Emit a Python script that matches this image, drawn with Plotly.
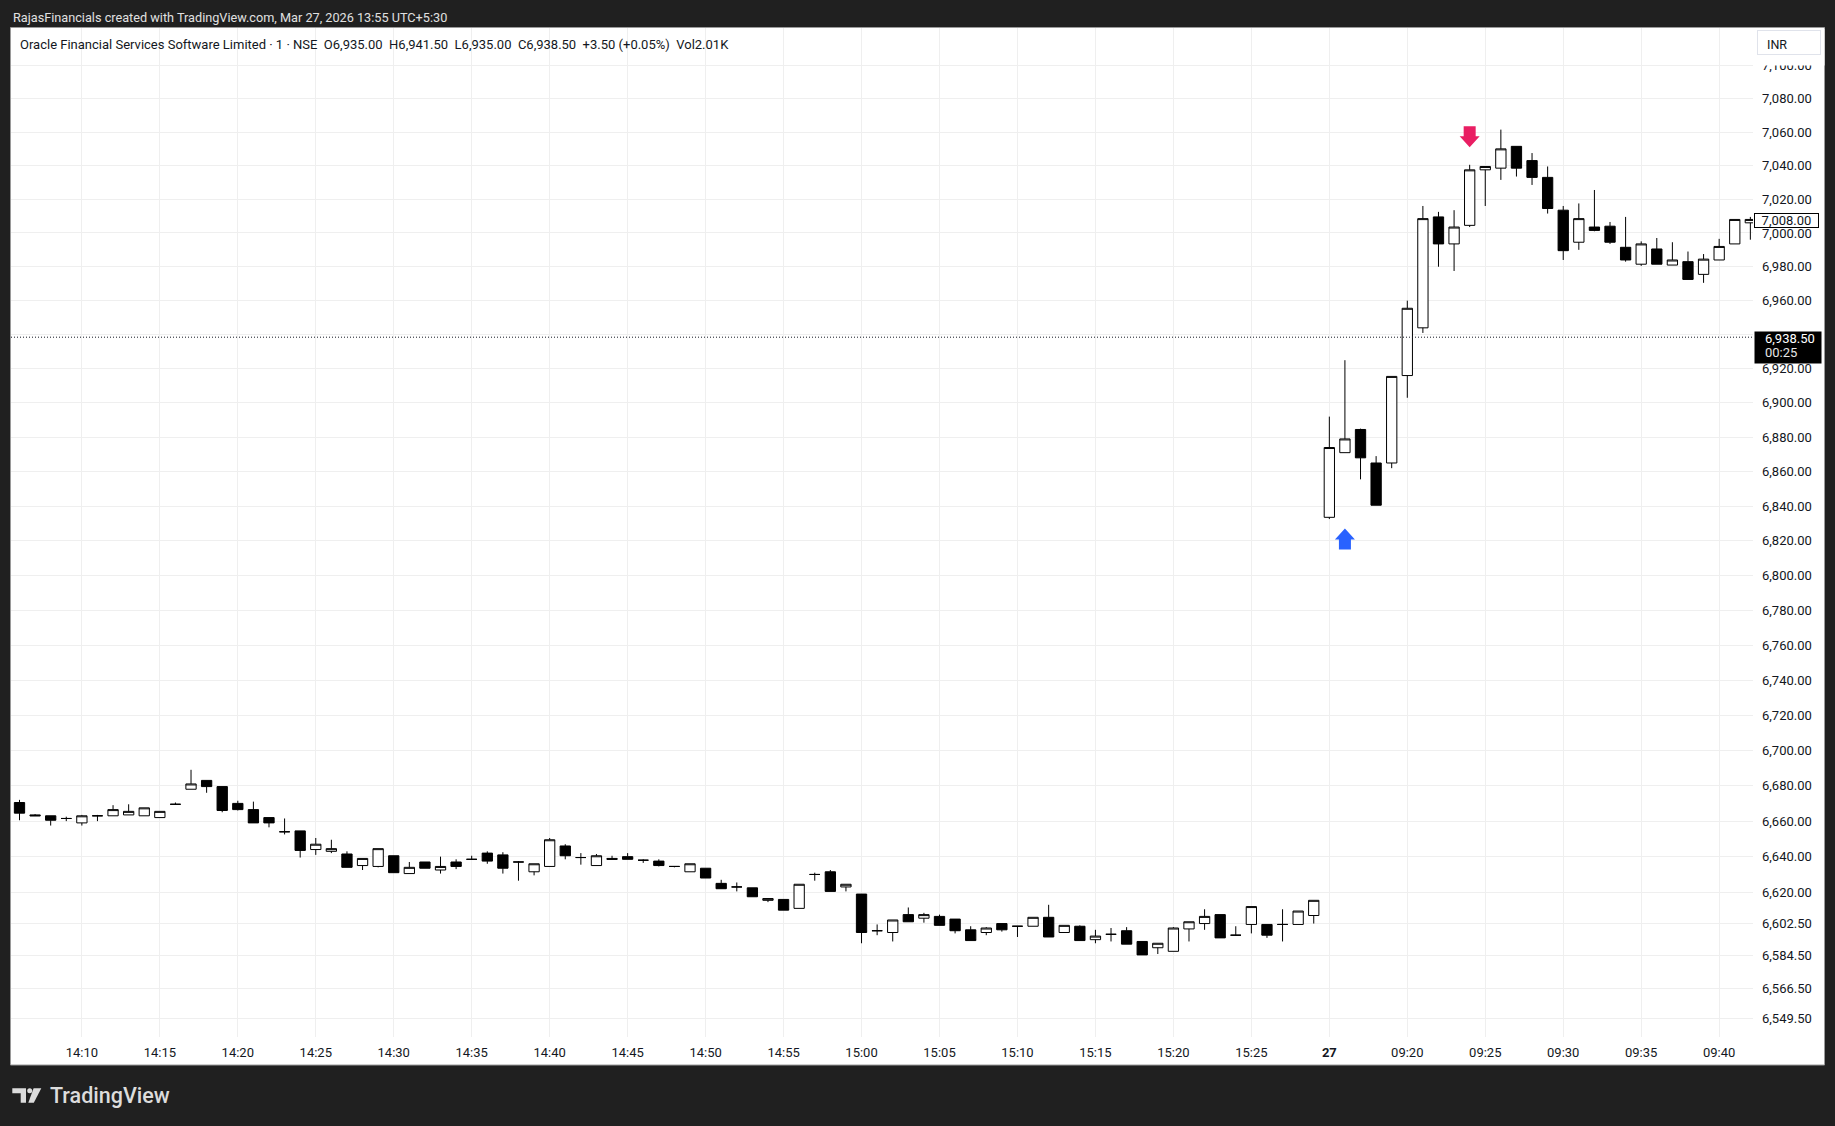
import numpy as np
import plotly.graph_objects as go

# ---------------- data ----------------
times = [
    "14:06", "14:07", "14:08", "14:09", "14:10", "14:11", "14:12", "14:13", "14:14", "14:15",
    "14:16", "14:17", "14:18", "14:19", "14:20", "14:21", "14:22", "14:23", "14:24", "14:25",
    "14:26", "14:27", "14:28", "14:29", "14:30", "14:31", "14:32", "14:33", "14:34", "14:35",
    "14:36", "14:37", "14:38", "14:39", "14:40", "14:41", "14:42", "14:43", "14:44", "14:45",
    "14:46", "14:47", "14:48", "14:49", "14:50", "14:51", "14:52", "14:53", "14:54", "14:55",
    "14:56", "14:57", "14:58", "14:59", "15:00", "15:01", "15:02", "15:03", "15:04", "15:05",
    "15:06", "15:07", "15:08", "15:09", "15:10", "15:11", "15:12", "15:13", "15:14", "15:15",
    "15:16", "15:17", "15:18", "15:19", "15:20", "15:21", "15:22", "15:23", "15:24", "15:25",
    "15:26", "15:27", "15:28", "15:29",
    "09:15", "09:16", "09:17", "09:18", "09:19", "09:20", "09:21", "09:22", "09:23", "09:24",
    "09:25", "09:26", "09:27", "09:28", "09:29", "09:30", "09:31", "09:32", "09:33", "09:34",
    "09:35", "09:36", "09:37", "09:38", "09:39", "09:40", "09:41", "09:42",
]

opens = [
    6670.5, 6663.5, 6663.0, 6661.5, 6659.0, 6663.0, 6663.0, 6663.5, 6663.0, 6662.0,
    6669.5, 6678.0, 6683.0, 6679.5, 6670.0, 6666.5, 6662.0, 6654.0, 6654.5, 6644.0,
    6643.0, 6641.5, 6635.0, 6634.5, 6640.5, 6630.5, 6637.0, 6632.5, 6637.0, 6638.5,
    6642.0, 6641.0, 6637.0, 6631.5, 6634.5, 6646.0, 6639.5, 6635.0, 6639.0, 6640.0,
    6638.0, 6637.5, 6634.5, 6631.5, 6633.5, 6625.0, 6623.0, 6622.5, 6615.5, 6616.0,
    6611.0, 6630.0, 6631.5, 6623.0, 6619.0, 6598.5, 6597.5, 6607.5, 6605.5, 6606.5,
    6605.0, 6599.0, 6597.5, 6602.5, 6601.0, 6601.0, 6606.0, 6597.5, 6601.0, 6593.5,
    6596.5, 6598.5, 6592.5, 6589.0, 6587.0, 6599.5, 6602.5, 6607.5, 6596.0, 6602.0,
    6602.0, 6602.0, 6602.0, 6607.0,
    6833.5, 6871.0, 6884.5, 6865.0, 6865.0, 6916.0, 6944.0, 7009.5, 6993.5, 7004.5,
    7037.5, 7038.5, 7051.5, 7043.0, 7033.0, 7013.5, 6994.5, 7003.5, 7004.0, 6991.5,
    6981.5, 6990.5, 6981.0, 6983.0, 6975.5, 6984.0, 6993.5, 7006.0,
]
highs = [
    6672.0, 6664.0, 6663.0, 6662.5, 6663.5, 6663.5, 6669.0, 6669.5, 6667.5, 6665.5,
    6670.5, 6689.0, 6683.0, 6679.5, 6671.5, 6671.0, 6662.0, 6661.5, 6654.5, 6650.5,
    6649.5, 6643.0, 6639.0, 6644.5, 6640.5, 6637.0, 6637.0, 6640.0, 6638.5, 6640.5,
    6643.0, 6642.5, 6637.5, 6636.0, 6650.5, 6647.0, 6642.0, 6641.5, 6640.5, 6642.0,
    6638.5, 6638.5, 6634.5, 6636.0, 6633.5, 6627.0, 6625.5, 6622.5, 6616.5, 6616.0,
    6624.5, 6631.0, 6632.5, 6624.5, 6619.0, 6602.0, 6604.5, 6611.5, 6608.5, 6607.5,
    6605.0, 6601.0, 6600.5, 6602.5, 6601.0, 6606.0, 6613.0, 6601.5, 6601.5, 6599.0,
    6600.0, 6600.5, 6592.5, 6591.5, 6600.5, 6603.5, 6610.5, 6607.5, 6601.0, 6612.0,
    6602.0, 6610.5, 6609.5, 6615.5,
    6892.0, 6925.0, 6885.0, 6869.0, 6915.5, 6960.0, 7016.0, 7012.5, 7013.5, 7040.5,
    7039.5, 7061.5, 7051.5, 7047.5, 7039.5, 7016.0, 7017.5, 7025.5, 7006.5, 7009.5,
    6995.0, 6997.0, 6994.5, 6989.0, 6987.5, 6996.5, 7008.0, 7009.5,
]
lows = [
    6660.5, 6663.0, 6657.5, 6660.0, 6657.5, 6660.0, 6663.0, 6663.5, 6663.0, 6662.0,
    6669.5, 6678.0, 6676.0, 6665.0, 6666.0, 6659.0, 6656.5, 6652.5, 6639.5, 6641.0,
    6642.0, 6634.0, 6632.5, 6634.0, 6631.0, 6630.5, 6633.5, 6630.5, 6633.0, 6638.5,
    6636.0, 6630.5, 6626.5, 6629.5, 6634.5, 6638.5, 6635.5, 6635.0, 6638.5, 6638.5,
    6636.5, 6634.5, 6634.0, 6631.5, 6628.0, 6622.0, 6620.5, 6617.5, 6614.5, 6610.0,
    6611.0, 6626.5, 6620.5, 6620.5, 6591.5, 6596.0, 6592.5, 6603.5, 6603.0, 6601.5,
    6597.0, 6593.0, 6596.0, 6598.0, 6595.0, 6601.0, 6595.0, 6597.5, 6593.0, 6591.5,
    6592.5, 6591.0, 6585.0, 6585.5, 6587.0, 6592.5, 6599.0, 6594.5, 6596.0, 6597.0,
    6594.5, 6592.5, 6602.0, 6602.5,
    6832.5, 6871.0, 6855.5, 6840.5, 6862.0, 6903.0, 6941.0, 6980.0, 6977.5, 7003.5,
    7016.0, 7031.5, 7033.5, 7028.5, 7011.5, 6984.0, 6990.0, 7001.0, 6993.5, 6983.0,
    6980.5, 6981.5, 6981.0, 6972.5, 6970.5, 6984.0, 6993.5, 6996.0,
]
closes = [
    6664.5, 6663.0, 6660.5, 6661.5, 6663.0, 6663.0, 6666.5, 6665.5, 6667.5, 6665.5,
    6669.5, 6681.0, 6679.5, 6666.0, 6666.5, 6659.0, 6659.0, 6654.0, 6643.5, 6647.0,
    6644.5, 6634.0, 6639.0, 6644.5, 6631.0, 6634.0, 6633.5, 6634.5, 6634.5, 6638.5,
    6637.5, 6633.5, 6637.0, 6636.0, 6649.5, 6640.5, 6639.5, 6640.5, 6638.5, 6638.5,
    6638.0, 6635.0, 6634.5, 6636.0, 6628.0, 6622.0, 6623.0, 6617.5, 6616.5, 6610.0,
    6624.5, 6630.0, 6620.5, 6624.5, 6597.5, 6598.5, 6604.5, 6603.5, 6607.5, 6601.5,
    6598.5, 6593.0, 6600.0, 6599.0, 6601.0, 6606.0, 6595.0, 6601.5, 6593.0, 6595.5,
    6596.5, 6591.0, 6585.0, 6591.5, 6600.0, 6603.5, 6606.5, 6594.5, 6596.0, 6612.0,
    6596.0, 6602.0, 6609.5, 6615.5,
    6874.0, 6879.0, 6868.0, 6840.5, 6915.5, 6955.5, 7008.5, 6993.5, 7003.5, 7037.5,
    7039.5, 7050.0, 7038.5, 7033.0, 7014.5, 6989.5, 7008.5, 7001.5, 6994.5, 6984.0,
    6993.5, 6981.5, 6984.0, 6972.5, 6984.5, 6992.0, 7008.0, 7008.0,
]

tick_times = ["14:10", "14:15", "14:20", "14:25", "14:30", "14:35", "14:40", "14:45",
              "14:50", "14:55", "15:00", "15:05", "15:10", "15:15", "15:20", "15:25",
              "09:15", "09:20", "09:25", "09:30", "09:35", "09:40"]
tick_labels = ["14:10", "14:15", "14:20", "14:25", "14:30", "14:35", "14:40", "14:45",
               "14:50", "14:55", "15:00", "15:05", "15:10", "15:15", "15:20", "15:25",
               "<b>27</b>", "09:20", "09:25", "09:30", "09:35", "09:40"]

# 6,940 keeps its grid line; its label is hidden behind the last-price tag
price_ticks = [7100, 7080, 7060, 7040, 7020, 7000, 6980, 6960, 6940, 6920, 6900, 6880,
               6860, 6840, 6820, 6800, 6780, 6760, 6740, 6720, 6700, 6680, 6660, 6640,
               6620, 6602.5, 6584.5, 6566.5, 6549.5]
price_labels = ["7,100.00", "7,080.00", "7,060.00", "7,040.00", "7,020.00", "7,000.00",
                "6,980.00", "6,960.00", "", "6,920.00", "6,900.00", "6,880.00",
                "6,860.00", "6,840.00", "6,820.00", "6,800.00", "6,780.00", "6,760.00",
                "6,740.00", "6,720.00", "6,700.00", "6,680.00", "6,660.00", "6,640.00",
                "6,620.00", "6,602.50", "6,584.50", "6,566.50", "6,549.50"]

last_price = 6938.50
last_price_text = "6,938.50"
countdown_text = "00:25"
bar_close = 7008.00
bar_close_text = "7,008.00"

buy_signal_time = "09:16"
buy_signal_price = 6827.0
sell_signal_time = "09:24"
sell_signal_price = 7051.0

header_text = "RajasFinancials created with TradingView.com, Mar 27, 2026 13:55 UTC+5:30"
legend_text = ("Oracle Financial Services Software Limited · 1 · NSE&nbsp;&nbsp;O6,935.00&nbsp;&nbsp;"
               "H6,941.50&nbsp;&nbsp;L6,935.00&nbsp;&nbsp;C6,938.50&nbsp;&nbsp;+3.50 (+0.05%)&nbsp;&nbsp;Vol2.01K")

# ---------------- layout geometry (px) ----------------
W, H = 1835, 1126
PL, PR, PT, PB = 11, 1753, 28, 1037
DARK = "#202020"
INK = "#131722"
GRID = "#efefef"
FONT = "Roboto"


def pxx(px):
    return (px - PL) / (PR - PL)


def pxy(py):
    return (PB - py) / (PB - PT)


xpos = list(range(len(times)))
tickvals = [times.index(t) for t in tick_times]

fig = go.Figure()
fig.add_trace(go.Candlestick(
    x=xpos, open=opens, high=highs, low=lows, close=closes,
    increasing=dict(line=dict(color="black", width=1), fillcolor="white"),
    decreasing=dict(line=dict(color="black", width=1), fillcolor="black"),
    whiskerwidth=0, showlegend=False, hoverinfo="skip",
))

shapes = []
# white chart panel
shapes.append(dict(type="rect", xref="paper", yref="paper", layer="below",
                   x0=pxx(10.5), x1=pxx(1824.5), y0=pxy(1065), y1=pxy(27.5),
                   fillcolor="white", line=dict(color="#9a9a9a", width=1)))
# last-price dotted line
shapes.append(dict(type="line", xref="paper", yref="y", x0=0, x1=1,
                   y0=last_price, y1=last_price,
                   line=dict(color="#131722", width=1, dash="1px,2px")))
# signal arrows (pixel-sized, anchored on data)
up_path = "M0,0 L10,-11 L6,-11 L6,-21 L-6,-21 L-6,-11 L-10,-11 Z"
down_path = "M0,0 L10,11 L6,11 L6,21 L-6,21 L-6,11 L-10,11 Z"
shapes.append(dict(type="path", xref="x", yref="y", xsizemode="pixel", ysizemode="pixel",
                   xanchor=times.index(buy_signal_time), yanchor=buy_signal_price,
                   path=up_path, fillcolor="#2962FF", line=dict(width=0)))
shapes.append(dict(type="path", xref="x", yref="y", xsizemode="pixel", ysizemode="pixel",
                   xanchor=times.index(sell_signal_time), yanchor=sell_signal_price,
                   path=down_path, fillcolor="#E91E63", line=dict(width=0)))
# TradingView logo glyph
logo_col = "#dcdcdc"
shapes.append(dict(type="path", xref="paper", yref="paper",
                   path="M{},{} L{},{} L{},{} L{},{} L{},{} L{},{} Z".format(
                       pxx(12.3), pxy(1088.3), pxx(26), pxy(1088.3), pxx(26), pxy(1102.7),
                       pxx(20.7), pxy(1102.7), pxx(20.7), pxy(1093.3), pxx(12.3), pxy(1093.3)),
                   fillcolor=logo_col, line=dict(width=0)))
shapes.append(dict(type="circle", xref="paper", yref="paper",
                   x0=pxx(27.2), x1=pxx(32.2), y0=pxy(1093.3), y1=pxy(1088.3),
                   fillcolor=logo_col, line=dict(width=0)))
shapes.append(dict(type="path", xref="paper", yref="paper",
                   path="M{},{} L{},{} L{},{} L{},{} Z".format(
                       pxx(33.6), pxy(1088.3), pxx(41.3), pxy(1088.3),
                       pxx(33.8), pxy(1102.7), pxx(28.3), pxy(1102.7)),
                   fillcolor=logo_col, line=dict(width=0)))

ann = []
ann.append(dict(text=header_text, xref="paper", yref="paper", x=pxx(10.5), y=pxy(17.3),
                xanchor="left", yanchor="middle", showarrow=False,
                font=dict(family=FONT, size=12.7, color="#e0e0e0")))
ann.append(dict(text=legend_text, xref="paper", yref="paper", x=pxx(18), y=pxy(44.5),
                xanchor="left", yanchor="middle", showarrow=False,
                font=dict(family=FONT, size=13, color=INK)))
ann.append(dict(text="TradingView", xref="paper", yref="paper", x=pxx(47.5), y=pxy(1095.7),
                xanchor="left", yanchor="middle", showarrow=False,
                font=dict(family=FONT, size=21.5, color=logo_col, weight=500)))
# cover top of price scale + INR box
ann.append(dict(text="&nbsp;", xref="paper", yref="paper", x=1, xshift=1, y=1, yshift=0,
                xanchor="left", yanchor="top", showarrow=False, width=69, height=36,
                borderpad=0, bgcolor="white"))
ann.append(dict(text="&nbsp;", xref="paper", yref="paper", x=1, xshift=3.7, y=1, yshift=-2,
                xanchor="left", yanchor="top", showarrow=False, width=62, height=23,
                borderpad=0, borderwidth=1, bordercolor="#e0e3eb", bgcolor="white"))
ann.append(dict(text="INR", xref="paper", yref="paper", x=1, xshift=12, y=1, yshift=-16,
                xanchor="left", yanchor="middle", showarrow=False,
                font=dict(family=FONT, size=12.5, color=INK)))
# bar close label
ann.append(dict(text=bar_close_text, xref="paper", yref="y", x=1, xshift=1,
                y=np.log10(bar_close), yshift=-0.8, xanchor="left", yanchor="middle",
                showarrow=False, width=63, height=13, borderpad=0, borderwidth=1,
                bordercolor="black", bgcolor="white", align="center",
                font=dict(family=FONT, size=13, color=INK)))
# last price label
ann.append(dict(text="&nbsp;", xref="paper", yref="y", x=1, xshift=1,
                y=np.log10(last_price), yshift=6.2, xanchor="left", yanchor="top",
                showarrow=False, width=66, height=31, borderpad=0, bgcolor="black"))
ann.append(dict(text=last_price_text, xref="paper", yref="y", x=1, xshift=9.5,
                y=np.log10(last_price), yshift=-1.5, xanchor="left", yanchor="middle",
                showarrow=False, font=dict(family=FONT, size=13, color="white")))
ann.append(dict(text=countdown_text, xref="paper", yref="y", x=1, xshift=9.5,
                y=np.log10(last_price), yshift=-15.5, xanchor="left", yanchor="middle",
                showarrow=False, font=dict(family=FONT, size=13, color="#e6e6e6")))

fig.update_layout(
    width=W, height=H, autosize=False,
    margin=dict(l=PL, r=W - PR, t=PT, b=H - PB, pad=0),
    paper_bgcolor=DARK, plot_bgcolor="white",
    font=dict(family=FONT, size=13, color=INK),
    boxgap=0.34, boxgroupgap=0,
    shapes=shapes, annotations=ann, showlegend=False,
    xaxis=dict(range=[-0.545, 111.17], tickmode="array", tickvals=tickvals, ticktext=tick_labels,
               showgrid=True, gridcolor=GRID, gridwidth=1, zeroline=False, showline=False,
               ticks="", ticklabelstandoff=6, tickfont=dict(family=FONT, size=13, color=INK),
               rangeslider=dict(visible=False), fixedrange=True),
    yaxis=dict(type="log", side="right",
               range=[np.log10(6539.4), np.log10(7122.5)],
               tickmode="array", tickvals=price_ticks, ticktext=price_labels,
               showgrid=True, gridcolor=GRID, gridwidth=1, zeroline=False, showline=False,
               ticks="", ticklabelstandoff=8, tickfont=dict(family=FONT, size=13, color=INK),
               fixedrange=True),
)

fig.write_html("out.html", config={"displayModeBar": False},
               post_script="document.body.style.margin='0';document.body.style.background='%s';" % DARK)
